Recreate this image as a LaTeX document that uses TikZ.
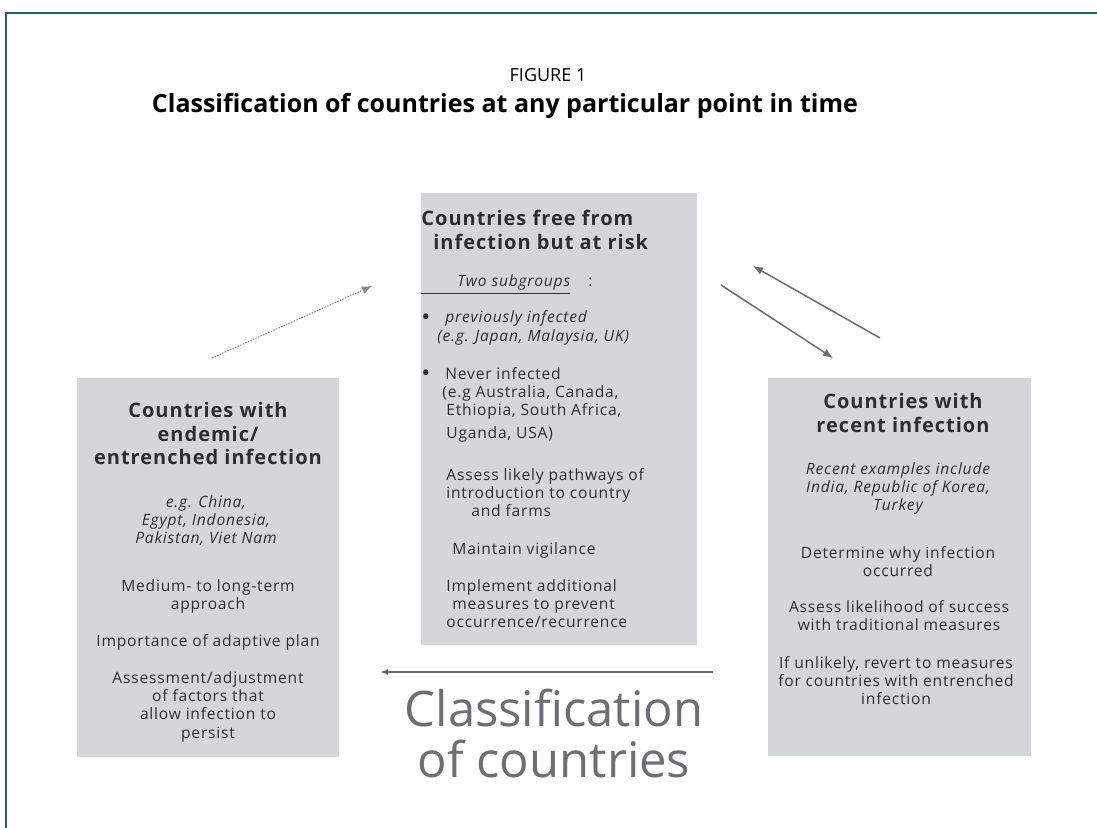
\documentclass[tikz,border=0pt]{standalone}
\usepackage{fontspec}
\setmainfont{Open Sans}
\newfontfamily\boxfont{Open Sans}[LetterSpace=5]
\usetikzlibrary{arrows.meta}
\definecolor{framegreen}{HTML}{2A5F66}
\definecolor{boxgrey}{HTML}{D5D6D8}
\definecolor{inkgrey}{HTML}{2E2E30}
\definecolor{biggrey}{HTML}{6D6E71}
\definecolor{arrowgrey}{HTML}{6A6B6E}
\newcommand\bodysize{\boxfont\fontsize{7.8}{9.2}\selectfont}
\newcommand\dotitem{\makebox[12pt][l]{\raisebox{-1.2pt}{\normalfont\fontsize{12}{12}\selectfont\textbullet}}}

\tikzset{
  panel/.style={fill=boxgrey, inner sep=0pt},
  body/.style={inner sep=0pt, text=inkgrey, font=\bodysize, anchor=base},
  head/.style={inner sep=0pt, text=inkgrey, font=\boxfont\bfseries\fontsize{10}{12}\selectfont, anchor=base},
  flow/.style={draw=arrowgrey, line width=0.75pt, -{Latex[length=5pt,width=4pt]}},
}

\begin{document}
\begin{tikzpicture}[x=0.5pt,y=-0.5pt]
  \useasboundingbox (0,0) rectangle (1097,828);
  % frame
  \draw[framegreen, line width=1pt] (1097,13) -- (6,13) -- (6,828);

  % title
  \node[anchor=base, inner sep=0pt, font=\fontsize{9}{12}\selectfont] (fignum) at (548,82) {FIGURE 1};
  \node[anchor=base, inner sep=0pt, font=\bfseries\fontsize{12.5}{14}\selectfont] (figtitle) at (505,113)
    {Classification of countries at any particular point in time};

  % the three groups
  \node[panel, minimum width=138pt, minimum height=226pt] (atrisk) at (559,419) {};
  \node[panel, minimum width=131pt, minimum height=189.5pt] (endemic) at (208,567.5) {};
  \node[panel, minimum width=131.5pt, minimum height=189pt] (recent) at (899.5,567) {};

  % free but at risk (base = last line)
  \node[head, anchor=base west, align=left] (atrisk-head) at (421,250)
    {Countries free from\\\hspace{6pt}infection but at risk};
  \node[body, anchor=base west] (atrisk-sub) at (421,287)
    {\underline{\hspace{18pt}\itshape Two subgroups}\hspace{9pt}:};
  \node[body, anchor=base west, align=left] (atrisk-prev) at (421,341.4)
    {\dotitem\itshape previously infected\\\hspace{8pt}\itshape (e.g. Japan, Malaysia, UK)};
  \node[body, anchor=base west, align=left] (atrisk-never) at (421,438)
    {\dotitem Never infected\\\hspace{10.5pt}(e.g Australia, Canada,\\
     \hspace{12.5pt}Ethiopia, South Africa,\\[1.9pt]\hspace{12.5pt}Uganda, USA)};
  \node[body, anchor=base west, align=left] (atrisk-paths) at (446,516.8)
    {Assess likely pathways of\\introduction to country\\\hspace{12.5pt}and farms};
  \node[body, anchor=base west] (atrisk-vigil) at (452,554) {Maintain vigilance};
  \node[body, anchor=base west, align=left] (atrisk-extra) at (446,627.8)
    {Implement additional\\\hspace{3pt}measures to prevent\\occurrence/recurrence};

  % endemic
  \node[head, align=center] (endemic-head) at (208,465)
    {Countries with\\endemic/\\entrenched infection};
  \node[body, align=center, font=\bodysize\itshape] (endemic-eg) at (206,543.8)
    {e.g. China,\\Egypt, Indonesia,\\Pakistan, Viet Nam};
  \node[body, align=center] (endemic-term) at (208,609.4) {Medium- to long-term\\approach};
  \node[body] (endemic-plan) at (208,646) {Importance of adaptive plan};
  \node[body, align=center] (endemic-adj) at (208,738.2)
    {Assessment/adjustment\\of factors that\\allow infection to\\persist};

  % recent
  \node[head, align=center] (recent-head) at (903,432) {Countries with\\recent infection};
  \node[body, align=center, font=\bodysize\itshape] (recent-eg) at (898,510.8)
    {Recent examples include\\India, Republic of Korea,\\Turkey};
  \node[body, align=center] (recent-why) at (898,576.4) {Determine why infection\\occurred};
  \node[body, align=center] (recent-odds) at (899,630.4)
    {Assess likelihood of success\\with traditional measures};
  \node[body, align=center] (recent-revert) at (896,704.8)
    {If unlikely, revert to measures\\for countries with entrenched\\infection};

  \node[anchor=base, inner sep=0pt, align=center, text=biggrey, font=\fontsize{24.5}{25.5}\selectfont]
    (classif) at (554,777) {Classification\\of countries};

  % arrow ends
  \coordinate (e-from) at (212,358);
  \coordinate (e-to) at (372,286);
  \coordinate (r-from) at (721,285);
  \coordinate (r-to) at (833,358);
  \coordinate (b-from) at (880,338);
  \coordinate (b-to) at (753,266);
  \coordinate (l-from) at (713,672);
  \coordinate (l-to) at (380,672);

  \draw[flow, line width=0.45pt, draw=arrowgrey!80, dash pattern=on 0.8pt off 0.6pt] (e-from) -- (e-to);
  \draw[flow] (r-from) -- (r-to);
  \draw[flow] (b-from) -- (b-to);
  \draw[flow, -{Latex[length=4pt,width=3pt]}] (l-from) -- (l-to);
\end{tikzpicture}
\end{document}
